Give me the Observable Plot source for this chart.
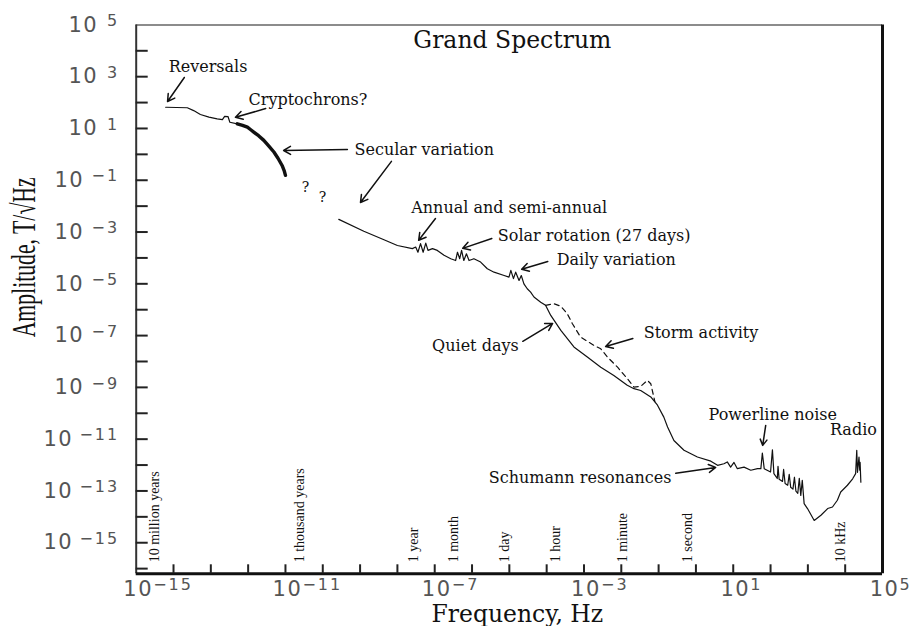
<!DOCTYPE html>
<html><head><meta charset="utf-8">
<script src="https://cdn.jsdelivr.net/npm/d3@7"></script>
<script src="https://cdn.jsdelivr.net/npm/@observablehq/plot@0.6"></script>
<style>
body{margin:0;background:#fff;}
</style></head><body><div id="chart"></div>
<script>
// ---- data (log10 frequency [Hz], log10 amplitude [T/sqrt(Hz)]) ----
const geoLogF = [-14.21,-13.63,-13.46,-13.28,-13.05,-12.83,-12.69,-12.63,-12.54,-12.49,-12.29];
const geoLogA = [1.82,1.80,1.69,1.54,1.44,1.37,1.34,1.47,1.46,1.24,1.18];

const secularLogF = [-12.29,-12.15,-12.02,-11.93,-11.85,-11.72,-11.58,-11.45,-11.31,-11.20,-11.09,-11.03,-11.00];
const secularLogA = [1.18,1.12,1.05,0.95,0.86,0.72,0.54,0.33,0.09,-0.15,-0.43,-0.65,-0.81];

const spectrumLogF = [-9.57,-8.90,-8.36,-8.00,-7.60,-7.51,-7.45,-7.38,-7.31,-7.24,-7.18,-7.06,-6.93,-6.75,-6.57,-6.44,-6.39,-6.33,-6.28,-6.22,-6.15,-6.08,-5.95,-5.77,-5.59,-5.41,-5.14,-5.01,-4.96,-4.89,-4.83,-4.74,-4.68,-4.61,-4.52,-4.43,-4.34,-4.16,-4.03,-3.89,-3.62,-3.27,-2.91,-2.55,-2.20,-1.84,-1.66,-1.48,-1.21,-1.03,-0.86,-0.76,-0.59,-0.32,0.04,0.40,0.58,0.75,0.84,0.93,1.02,1.11,1.29,1.47,1.65,1.74,1.78,1.83,2.00,2.05,2.09,2.18,2.20,2.23,2.32,2.35,2.39,2.46,2.50,2.54,2.60,2.64,2.68,2.73,2.77,2.81,2.85,2.90,2.99,3.17,3.35,3.53,3.66,3.79,3.88,4.06,4.20,4.28,4.31,4.33,4.37,4.39,4.40,4.42];
const spectrumLogA = [-2.51,-2.97,-3.30,-3.52,-3.64,-3.58,-3.78,-3.45,-3.78,-3.43,-3.71,-3.64,-3.71,-3.90,-4.03,-4.10,-3.78,-4.03,-3.71,-4.10,-3.84,-4.10,-4.03,-4.16,-4.42,-4.55,-4.68,-4.74,-4.48,-4.80,-4.55,-4.87,-4.68,-5.00,-5.19,-5.32,-5.51,-5.71,-5.83,-6.22,-6.80,-7.44,-7.83,-8.22,-8.54,-8.92,-9.05,-9.12,-9.37,-9.69,-10.15,-10.53,-11.05,-11.43,-11.69,-11.85,-12.01,-11.95,-11.88,-12.08,-11.90,-12.14,-12.08,-12.20,-12.14,-12.14,-11.54,-12.14,-12.27,-11.41,-12.33,-12.52,-12.05,-12.55,-12.63,-12.17,-12.71,-12.78,-12.36,-12.86,-12.93,-12.47,-13.01,-13.09,-12.51,-13.17,-12.59,-13.49,-13.68,-14.14,-13.94,-13.68,-13.62,-13.36,-13.04,-12.78,-12.53,-12.33,-11.43,-12.28,-11.69,-12.20,-11.90,-12.66];

const stormLogF = [-4.03,-3.80,-3.62,-3.45,-3.31,-3.09,-2.73,-2.55,-2.37,-2.10,-1.84,-1.66,-1.48,-1.30,-1.21,-1.10];
const stormLogA = [-5.83,-5.77,-5.87,-6.15,-6.54,-7.06,-7.38,-7.51,-7.83,-8.22,-8.66,-8.99,-8.96,-8.73,-8.86,-9.55];

// annotations
const noteText   = ["Reversals","Cryptochrons?","Secular variation","Annual and semi-annual","Solar rotation (27 days)","Daily variation","Storm activity","Powerline noise","Schumann resonances","Quiet days","Radio","?","?"];
const noteLogF   = [-14.13,-11.99,-9.15,-7.63,-5.31,-3.73,-1.40,0.34,-5.55,-4.75,4.85,-10.46,-10.01];
const noteLogA   = [3.39,2.12,0.19,-2.05,-3.15,-4.06,-6.88,-10.08,-12.48,-7.38,-10.66,-1.28,-1.66];
const noteAnchor = ["start","start","start","start","start","start","start","start","start","end","end","middle","middle"];

const arrowLogF1 = [-13.71,-11.53,-9.34,-8.16,-6.98,-5.47,-3.97,-4.64,-1.69,1.87,-0.54];
const arrowLogA1 = [2.97,1.77,0.19,-0.27,-2.48,-3.25,-4.14,-7.22,-7.11,-10.47,-12.32];
const arrowLogF2 = [-14.16,-12.34,-11.05,-8.99,-7.43,-6.25,-4.67,-3.84,-2.42,1.79,0.53];
const arrowLogA2 = [2.04,1.43,0.15,-1.86,-3.32,-3.63,-4.44,-6.53,-7.42,-11.24,-12.09];

// period markers along the frequency axis
const periodText = ["10 million years","1 thousand years","1 year","1 month","1 day","1 hour","1 minute","1 second","10 kHz"];
const periodFreq = [4.0e-15,3.2e-11,3.6e-8,4.3e-7,1.0e-5,2.3e-4,1.45e-2,0.8,1e4];

// axes
const xTickExps  = [-14,-13,-12,-11,-10,-9,-8,-7,-6,-5,-4,-3,-2,-1,0,1,2,3,4];
const yTickExps  = [-16,-15,-14,-13,-12,-11,-10,-9,-8,-7,-6,-5,-4,-3,-2,-1,0,1,2,3,4];
const xLabelExps = [-15,-11,-7,-3,1,5];
const yLabelExps = [5,3,1,-1,-3,-5,-7,-9,-11,-13,-15];

const xDomain = [1e-15, 1e5];
const yDomain = [10 ** -16.2, 1e5];

// ---- build tables ----
const pts = (lf, la) => lf.map((f, i) => ({f: 10 ** f, a: 10 ** la[i]}));
const geo = pts(geoLogF, geoLogA);
const secular = pts(secularLogF, secularLogA);
const spectrum = pts(spectrumLogF, spectrumLogA);
const storm = pts(stormLogF, stormLogA);
const notes = noteText.map((t, i) => ({t, f: 10 ** noteLogF[i], a: 10 ** noteLogA[i], anchor: noteAnchor[i]}));
const arrows = arrowLogF1.map((f, i) => ({x1: 10 ** f, y1: 10 ** arrowLogA1[i], x2: 10 ** arrowLogF2[i], y2: 10 ** arrowLogA2[i]}));
const periods = periodText.map((t, i) => ({t, f: periodFreq[i]}));
const expStr = e => String(e).replace("-", "\u2212");
const yLab = yLabelExps.map(e => ({v: 10 ** e, e: expStr(e), n: expStr(e).length}));
const xLab = xLabelExps.map(e => ({v: 10 ** e, e: expStr(e)}));

const serif = "DejaVu Serif";
const ink = "#111";
const tickInk = "#555";
const yTitle = "Amplitude, T/\u221AHz";

const marks = [
  // frame
  Plot.ruleY([yDomain[1]], {stroke: "#666", strokeWidth: 1.5}),
  Plot.ruleX([xDomain[0]], {stroke: "#333", strokeWidth: 2}),
  Plot.ruleY([yDomain[0]], {stroke: "#111", strokeWidth: 3}),
  Plot.ruleX([xDomain[1]], {stroke: "#111", strokeWidth: 3}),
  // inward ticks
  Plot.tickX(xTickExps, {x: d => 10 ** d, insetTop: 548.9 - 9, stroke: "#222", strokeWidth: 2}),
  Plot.tickY(yTickExps, {y: d => 10 ** d, insetRight: 746.3 - 12, stroke: "#222", strokeWidth: 2}),
  // tick labels x
  Plot.text(xLab, {x: "v", text: () => "10", frameAnchor: "bottom", dy: 22, dx: 2, textAnchor: "middle", fontSize: 21, fill: tickInk}),
  Plot.text(xLab, {x: "v", text: "e", frameAnchor: "bottom", dy: 16, dx: 17, textAnchor: "start", fontSize: 16, fill: tickInk}),
  // tick labels y (grouped by exponent length so the whole label is right-aligned)
  Plot.text(yLab.filter(d => d.n === 1), {y: "v", text: () => "10", frameAnchor: "left", dx: -38, textAnchor: "end", fontSize: 21, fill: tickInk}),
  Plot.text(yLab.filter(d => d.n === 2), {y: "v", text: () => "10", frameAnchor: "left", dx: -52, textAnchor: "end", fontSize: 21, fill: tickInk}),
  Plot.text(yLab.filter(d => d.n === 3), {y: "v", text: () => "10", frameAnchor: "left", dx: -63, textAnchor: "end", fontSize: 21, fill: tickInk}),
  Plot.text(yLab, {y: "v", text: "e", frameAnchor: "left", dx: -17, dy: -4, textAnchor: "end", fontSize: 16, fill: tickInk}),
  // axis titles + title
  Plot.text(["Frequency, Hz"], {frameAnchor: "bottom", dx: 8, dy: 48, lineAnchor: "bottom", fontFamily: serif, fontSize: 23.5, fill: ink}),
  Plot.text([yTitle], {frameAnchor: "left", rotate: -90, textAnchor: "middle", dx: -101.5, dy: -42, lineAnchor: "bottom", fontFamily: "Liberation Serif", fontSize: 33, fill: ink}),
  Plot.text(["Grand Spectrum"], {frameAnchor: "top", dx: 3, dy: 22.6, lineAnchor: "bottom", fontFamily: serif, fontSize: 23.5, fill: ink}),
  // period labels
  Plot.text(periods, {x: "f", text: "t", frameAnchor: "bottom", rotate: -90, textAnchor: "start", dy: -11.5, fontFamily: "Liberation Serif", fontSize: 14, fill: ink}),
  // spectrum curves
  Plot.line(geo, {x: "f", y: "a", stroke: ink, strokeWidth: 1.2, strokeLinejoin: "round"}),
  Plot.line(secular, {x: "f", y: "a", stroke: ink, strokeWidth: 3.4, strokeLinejoin: "round", strokeLinecap: "round"}),
  Plot.line(spectrum, {x: "f", y: "a", stroke: ink, strokeWidth: 1.2, strokeLinejoin: "round"}),
  Plot.line(storm, {x: "f", y: "a", stroke: ink, strokeWidth: 1.2, strokeDasharray: "5,4"}),
  // annotations
  Plot.arrow(arrows, {x1: "x1", y1: "y1", x2: "x2", y2: "y2", stroke: ink, strokeWidth: 1.5, headLength: 8}),
  Plot.text(notes.filter(d => d.anchor === "start"), {x: "f", y: "a", text: "t", textAnchor: "start", fontFamily: serif, fontSize: 16, fill: ink}),
  Plot.text(notes.filter(d => d.anchor === "end"), {x: "f", y: "a", text: "t", textAnchor: "end", fontFamily: serif, fontSize: 16, fill: ink}),
  Plot.text(notes.filter(d => d.anchor === "middle"), {x: "f", y: "a", text: "t", textAnchor: "middle", fontFamily: serif, fontSize: 14, fill: ink})
];

const svg = Plot.plot({
  width: 914, height: 626,
  marginLeft: 135.7, marginRight: 32, marginTop: 24.4, marginBottom: 52.7,
  style: {background: "white", fontFamily: "DejaVu Sans", overflow: "visible"},
  x: {type: "log", domain: xDomain, axis: null},
  y: {type: "log", domain: yDomain, axis: null},
  marks
});
// styling touches: the original's y title is tall and condensed, tick labels are letter-spaced
const texts = d3.select(svg).selectAll("text");
texts.filter(function () { return this.textContent === yTitle; })
  .attr("textLength", 160).attr("lengthAdjust", "spacingAndGlyphs");
texts.filter(function () { return this.textContent === "10"; })
  .style("letter-spacing", "1.5px");
texts.filter(function () { return /^\u2212?\d+$/.test(this.textContent) && this.textContent !== "10"; })
  .style("letter-spacing", "2px");
document.getElementById("chart").appendChild(svg);
</script></body></html>
